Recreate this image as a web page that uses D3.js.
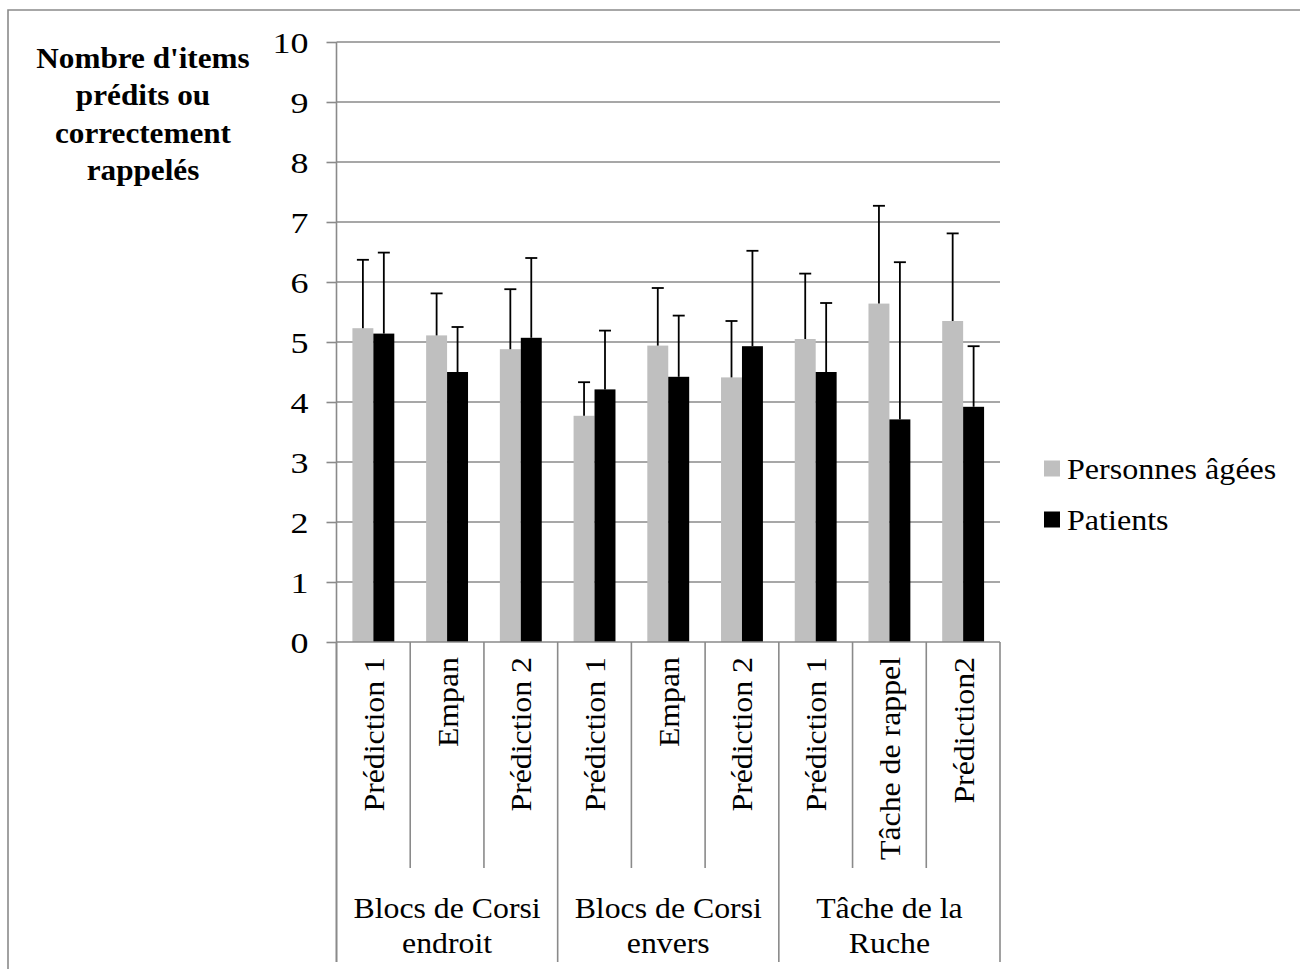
<!DOCTYPE html>
<html>
<head>
<meta charset="utf-8">
<script src="https://cdn.jsdelivr.net/npm/d3@7"></script>
<style>
  html, body { margin: 0; padding: 0; background: #fff; }
  svg { display: block; }
  text { font-family: "Liberation Serif", "Times New Roman", serif; fill: #000; }
</style>
</head>
<body>
<svg id="chart" width="1300" height="969"></svg>
<script>
// ---- Data ----
const categories = ["Prédiction 1", "Empan", "Prédiction 2", "Prédiction 1", "Empan", "Prédiction 2", "Prédiction 1", "Tâche de rappel", "Prédiction2"];
const groupLabels = [["Blocs de Corsi", "endroit"], ["Blocs de Corsi", "envers"], ["Tâche de la", "Ruche"]];
const groupSizes = [3, 3, 3];
const seriesNames = ["Personnes âgées", "Patients"];
const elderly = [5.23, 5.11, 4.88, 3.77, 4.94, 4.41, 5.05, 5.64, 5.35];
const patients = [5.14, 4.50, 5.07, 4.21, 4.42, 4.93, 4.50, 3.71, 3.92];
const elderlyErr = [1.14, 0.70, 1.00, 0.56, 0.96, 0.94, 1.09, 1.63, 1.46];
const patientsErr = [1.35, 0.75, 1.33, 0.98, 1.02, 1.59, 1.15, 2.62, 1.01];
const yTicks = [0, 1, 2, 3, 4, 5, 6, 7, 8, 9, 10];
const yTitle = ["Nombre d'items", "prédits ou", "correctement", "rappelés"];

const seriesColors = ["#bfbfbf", "#000000"];
const gridColor = "#8a8a8a";

const svg = d3.select("#chart");

// outer frame
svg.append("path")
  .attr("d", "M8,975 L8,10 L1310,10")
  .attr("fill", "none").attr("stroke", "#8a8a8a").attr("stroke-width", 1.6);

const pL = 336.5, pR = 1000, pT = 42, pB = 642;

const y = d3.scaleLinear().domain([0, 10]).range([pB, pT]);
const x0 = d3.scaleBand().domain(d3.range(categories.length)).range([pL, pR]).padding(0);
const x1 = d3.scaleBand().domain([0, 1]).range([0, x0.bandwidth()]).paddingInner(0).paddingOuter(0.76);

// gridlines
svg.append("g").selectAll("line").data(yTicks.filter(d => d > 0)).join("line")
  .attr("x1", pL).attr("x2", pR)
  .attr("y1", d => y(d)).attr("y2", d => y(d))
  .attr("stroke", gridColor).attr("stroke-width", 1.6);

// y axis
const yAxis = d3.axisLeft(y).tickValues(yTicks).tickSize(10).tickFormat(d3.format("d"));
const yg = svg.append("g").attr("transform", `translate(${pL},0)`).call(yAxis);
yg.select(".domain").remove();
yg.selectAll(".tick line").attr("stroke", gridColor).attr("stroke-width", 1.6);
yg.selectAll(".tick text")
  .attr("x", null).attr("dy", null)
  .attr("transform", "translate(-28,10.5) scale(1.2,1)")
  .attr("text-anchor", "end")
  .attr("fill", "#000")
  .style("font-size", "30px")
  .style("font-family", "'Liberation Serif', serif");
svg.append("line").attr("x1", pL).attr("x2", pL).attr("y1", pT).attr("y2", 962)
  .attr("stroke", gridColor).attr("stroke-width", 1.6);

// bars
const series = [elderly, patients];
const errs = [elderlyErr, patientsErr];
series.forEach((vals, si) => {
  const g = svg.append("g");
  g.selectAll("rect").data(vals).join("rect")
    .attr("x", (d, i) => x0(i) + x1(si))
    .attr("width", x1.bandwidth())
    .attr("y", d => y(d))
    .attr("height", d => y(0) - y(d))
    .attr("fill", seriesColors[si]);
});

// error bars
series.forEach((vals, si) => {
  const g = svg.append("g").attr("stroke", "#000").attr("stroke-width", 1.8);
  vals.forEach((v, i) => {
    const cx = x0(i) + x1(si) + x1.bandwidth() / 2;
    const yt = y(v + errs[si][i]);
    g.append("line").attr("x1", cx).attr("x2", cx).attr("y1", y(v)).attr("y2", yt);
    g.append("line").attr("x1", cx - 6).attr("x2", cx + 6).attr("y1", yt).attr("y2", yt);
  });
});

// x axis baseline
svg.append("line").attr("x1", pL).attr("x2", pR).attr("y1", pB).attr("y2", pB)
  .attr("stroke", gridColor).attr("stroke-width", 1.6);

// separators
const groupBounds = new Set([0]);
let acc = 0;
groupSizes.forEach(s => { acc += s; groupBounds.add(acc); });
d3.range(categories.length + 1).forEach(i => {
  const xx = i < categories.length ? x0(i) : pR;
  svg.append("line").attr("x1", xx).attr("x2", xx)
    .attr("y1", pB).attr("y2", groupBounds.has(i) ? 962 : 868)
    .attr("stroke", gridColor).attr("stroke-width", 1.6);
});

// category labels (rotated)
svg.append("g").selectAll("text").data(categories).join("text")
  .attr("transform", (d, i) => `translate(${x0(i) + x0.bandwidth() / 2 + 10.5},657) rotate(-90) scale(1.06,1)`)
  .attr("text-anchor", "end")
  .style("font-size", "30px")
  .text(d => d);

// group labels
let start = 0;
groupLabels.forEach((lines, gi) => {
  const n = groupSizes[gi];
  const cx = (x0(start) + (start + n < categories.length ? x0(start + n) : pR)) / 2;
  lines.forEach((ln, li) => {
    svg.append("text")
      .attr("transform", `translate(${cx},${918 + li * 35}) scale(1.06,1)`)
      .attr("text-anchor", "middle")
      .style("font-size", "30px")
      .text(ln);
  });
  start += n;
});

// y title
yTitle.forEach((ln, i) => {
  svg.append("text")
    .attr("transform", `translate(143,${68 + i * 37.3}) scale(1.04,1)`)
    .attr("text-anchor", "middle")
    .style("font-size", "30px").style("font-weight", "bold")
    .text(ln);
});

// legend
const legendY = [468.5, 519.5];
seriesNames.forEach((name, i) => {
  svg.append("rect").attr("x", 1044).attr("y", legendY[i] - 8).attr("width", 16).attr("height", 16)
    .attr("fill", seriesColors[i]);
  svg.append("text")
    .attr("transform", `translate(1067,${legendY[i] + 10}) scale(1.07,1)`)
    .style("font-size", "30px")
    .text(name);
});
</script>
</body>
</html>
